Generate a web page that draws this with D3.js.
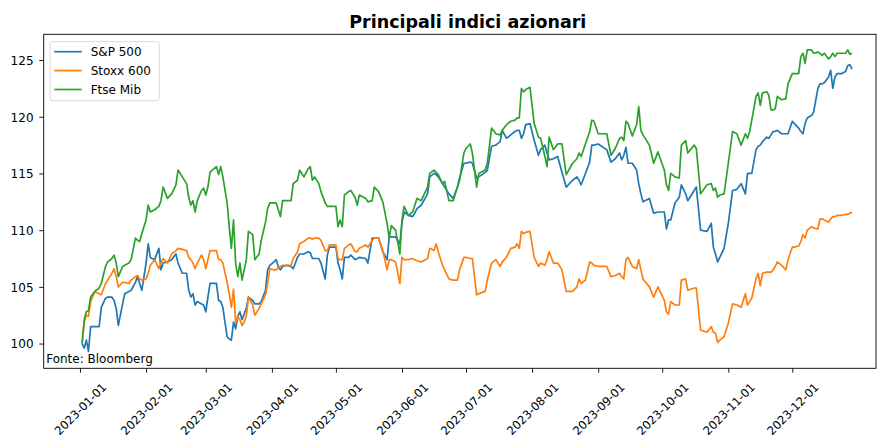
<!DOCTYPE html>
<html>
<head>
<meta charset="utf-8">
<script src="https://cdn.jsdelivr.net/npm/d3@7"></script>
<style>
  body { margin: 0; background: #fff; }
  text { font-family: "DejaVu Sans", sans-serif; }
</style>
</head>
<body>
<div id="chart"></div>
<script>
// Dati (indici normalizzati a 100 a inizio anno)
const dates = [
  '2023-01-02','2023-01-03','2023-01-04','2023-01-05','2023-01-06','2023-01-08','2023-01-10','2023-01-11','2023-01-13','2023-01-14',
  '2023-01-16','2023-01-17','2023-01-18','2023-01-19','2023-01-21','2023-01-22','2023-01-24','2023-01-25','2023-01-27','2023-01-28',
  '2023-01-29','2023-01-30','2023-02-01','2023-02-02','2023-02-03','2023-02-05','2023-02-07','2023-02-08','2023-02-09','2023-02-11',
  '2023-02-13','2023-02-15','2023-02-16','2023-02-18','2023-02-20','2023-02-21','2023-02-22','2023-02-23','2023-02-24','2023-02-25',
  '2023-02-27','2023-02-28','2023-03-01','2023-03-02','2023-03-03','2023-03-04','2023-03-06','2023-03-07','2023-03-08','2023-03-09',
  '2023-03-11','2023-03-12','2023-03-13','2023-03-14','2023-03-15','2023-03-16','2023-03-17','2023-03-18','2023-03-19','2023-03-20',
  '2023-03-21','2023-03-23','2023-03-24','2023-03-26','2023-03-27','2023-03-29','2023-03-30','2023-03-31','2023-04-02','2023-04-03',
  '2023-04-04','2023-04-05','2023-04-06','2023-04-08','2023-04-10','2023-04-11','2023-04-13','2023-04-14','2023-04-16','2023-04-18',
  '2023-04-19','2023-04-20','2023-04-21','2023-04-23','2023-04-24','2023-04-26','2023-04-27','2023-04-28','2023-05-01','2023-05-02',
  '2023-05-03','2023-05-04','2023-05-05','2023-05-07','2023-05-08','2023-05-10','2023-05-11','2023-05-12','2023-05-15','2023-05-16',
  '2023-05-18','2023-05-19','2023-05-21','2023-05-23','2023-05-25','2023-05-26','2023-05-27','2023-05-29','2023-05-31','2023-06-01',
  '2023-06-02','2023-06-04','2023-06-06','2023-06-07','2023-06-08','2023-06-10','2023-06-13','2023-06-14','2023-06-16','2023-06-17',
  '2023-06-18','2023-06-20','2023-06-21','2023-06-23','2023-06-25','2023-06-27','2023-06-28','2023-06-30','2023-07-01','2023-07-03',
  '2023-07-04','2023-07-06','2023-07-07','2023-07-10','2023-07-11','2023-07-13','2023-07-15','2023-07-17','2023-07-18','2023-07-20',
  '2023-07-22','2023-07-24','2023-07-25','2023-07-26','2023-07-27','2023-07-28','2023-07-29','2023-07-31','2023-08-02','2023-08-04',
  '2023-08-05','2023-08-07','2023-08-08','2023-08-09','2023-08-11','2023-08-13','2023-08-15','2023-08-17','2023-08-20','2023-08-22',
  '2023-08-23','2023-08-24','2023-08-26','2023-08-28','2023-08-29','2023-08-30','2023-09-01','2023-09-05','2023-09-07','2023-09-09',
  '2023-09-11','2023-09-12','2023-09-13','2023-09-14','2023-09-15','2023-09-17','2023-09-19','2023-09-20','2023-09-21','2023-09-22',
  '2023-09-25','2023-09-27','2023-09-29','2023-10-02','2023-10-03','2023-10-04','2023-10-05','2023-10-07','2023-10-09','2023-10-10',
  '2023-10-12','2023-10-13','2023-10-16','2023-10-17','2023-10-19','2023-10-22','2023-10-24','2023-10-25','2023-10-26','2023-10-27',
  '2023-10-28','2023-10-30','2023-11-01','2023-11-03','2023-11-05','2023-11-07','2023-11-09','2023-11-10','2023-11-11','2023-11-12',
  '2023-11-14','2023-11-15','2023-11-16','2023-11-17','2023-11-19','2023-11-20','2023-11-21','2023-11-22','2023-11-23','2023-11-24',
  '2023-11-26','2023-11-28','2023-11-29','2023-12-01','2023-12-02','2023-12-04','2023-12-05','2023-12-06','2023-12-07','2023-12-08',
  '2023-12-10','2023-12-11','2023-12-13','2023-12-14','2023-12-15','2023-12-16','2023-12-18','2023-12-19','2023-12-20','2023-12-21',
  '2023-12-22','2023-12-24','2023-12-26','2023-12-27','2023-12-28','2023-12-29'
];

const sp500 = [
  100.0, 99.6, 100.3, 99.3, 101.5, 101.5, 101.5, 103.2, 104.0, 104.1,
  104.1, 103.8, 103.1, 101.6, 103.5, 104.4, 104.6, 104.7, 105.4, 105.9,
  105.3, 104.7, 107.1, 108.8, 107.6, 107.4, 108.4, 106.5, 107.1, 107.2,
  107.4, 107.9, 107.1, 106.2, 106.2, 104.7, 104.1, 104.4, 103.4, 103.7,
  103.5, 103.4, 102.8, 104.1, 105.3, 105.3, 105.3, 103.8, 103.7, 103.2,
  100.6, 100.4, 100.3, 101.9, 101.3, 102.4, 102.8, 102.1, 102.6, 103.1,
  104.1, 103.8, 103.5, 103.5, 103.7, 104.7, 106.5, 106.9, 107.2, 107.4,
  106.8, 106.5, 106.8, 106.9, 106.8, 106.6, 107.6, 107.9, 107.9, 108.1,
  108.0, 107.5, 107.5, 107.5, 107.1, 105.7, 107.8, 108.5, 108.5, 107.1,
  106.5, 105.7, 107.6, 107.6, 107.8, 107.4, 107.5, 107.6, 107.5, 107.1,
  109.3, 109.3, 109.3, 108.1, 107.4, 109.4, 109.4, 109.4, 108.8, 110.7,
  111.6, 111.3, 111.2, 111.5, 111.9, 112.2, 113.2, 114.7, 115.0, 114.9,
  114.7, 114.1, 113.8, 113.2, 112.8, 113.8, 114.6, 115.9, 115.9, 116.0,
  115.9, 114.6, 114.7, 115.1, 115.3, 117.4, 117.5, 117.8, 118.8, 118.1,
  118.4, 118.7, 118.8, 118.8, 118.1, 118.5, 119.3, 119.4, 117.9, 116.6,
  117.1, 117.5, 116.8, 116.2, 116.3, 116.5, 115.1, 113.8, 114.4, 114.7,
  114.4, 114.0, 115.0, 116.0, 117.5, 117.5, 117.6, 117.1, 116.0, 116.3,
  116.8, 116.2, 116.6, 117.3, 115.9, 115.9, 115.3, 114.1, 113.2, 112.5,
  112.8, 111.5, 111.6, 111.6, 110.1, 110.9, 110.9, 112.4, 112.9, 114.0,
  113.2, 112.6, 113.5, 113.8, 110.0, 109.9, 110.6, 108.5, 107.9, 107.2,
  107.6, 108.4, 110.6, 113.5, 113.6, 114.1, 113.2, 115.0, 115.0, 115.0,
  117.1, 117.4, 117.5, 117.8, 118.2, 118.1, 118.4, 118.7, 118.7, 118.8,
  118.5, 118.5, 118.5, 119.6, 119.4, 119.0, 118.7, 118.5, 119.4, 119.9,
  120.1, 120.4, 122.5, 122.9, 122.9, 123.0, 123.5, 124.1, 122.5, 123.5,
  123.8, 123.8, 124.0, 124.5, 124.6, 124.2
];

const stoxx600 = [
  100.0, 101.9, 102.5, 102.4, 103.7, 104.6, 104.4, 104.3, 105.3, 105.6,
  106.2, 106.6, 105.9, 105.0, 105.4, 105.4, 105.3, 105.6, 105.9, 106.0,
  105.7, 105.6, 105.7, 106.2, 106.9, 107.4, 106.6, 107.1, 107.5, 107.1,
  107.9, 108.2, 108.4, 108.3, 108.2, 107.6, 107.4, 107.1, 106.6, 107.1,
  107.8, 107.4, 106.6, 107.4, 108.2, 108.2, 108.2, 107.4, 107.4, 107.1,
  105.4, 104.4, 103.2, 104.8, 101.8, 102.4, 102.1, 101.6, 101.9, 102.4,
  104.1, 103.4, 102.5, 103.1, 103.5, 104.3, 105.3, 106.6, 106.5, 106.5,
  106.7, 106.8, 106.9, 106.9, 106.9, 107.5, 108.1, 108.8, 109.0, 109.3,
  109.3, 109.2, 109.3, 109.3, 109.1, 108.2, 108.2, 108.7, 108.7, 107.5,
  107.4, 107.4, 108.4, 108.7, 108.8, 108.1, 108.1, 108.4, 108.7, 108.5,
  109.1, 109.3, 109.3, 108.2, 106.5, 107.4, 107.4, 107.2, 105.3, 107.6,
  107.4, 107.4, 107.5, 107.4, 107.3, 107.2, 107.5, 108.4, 108.2, 108.8,
  108.1, 106.9, 106.5, 105.7, 105.6, 105.6, 106.5, 107.6, 107.6, 107.5,
  107.5, 104.3, 104.4, 104.6, 105.6, 107.1, 107.4, 106.8, 107.2, 107.6,
  108.4, 108.5, 108.8, 108.4, 109.9, 109.7, 109.8, 109.9, 107.6, 106.8,
  107.1, 106.9, 107.4, 108.1, 107.1, 107.1, 106.5, 104.6, 104.6, 105.0,
  105.7, 105.3, 105.6, 107.2, 107.1, 106.9, 106.8, 106.8, 105.9, 106.0,
  106.2, 105.9, 105.7, 107.4, 107.6, 106.8, 106.6, 107.4, 106.5, 105.7,
  105.0, 104.1, 105.0, 103.8, 102.8, 102.6, 103.7, 103.4, 103.4, 105.6,
  105.7, 104.7, 104.9, 104.9, 101.2, 101.0, 101.5, 101.0, 100.9, 100.1,
  100.3, 100.6, 101.8, 103.5, 103.4, 103.2, 104.4, 103.4, 103.7, 104.0,
  105.7, 106.2, 105.1, 106.2, 106.3, 106.3, 106.3, 106.5, 106.8, 107.2,
  106.9, 106.5, 107.4, 108.5, 108.5, 108.6, 109.0, 109.6, 109.3, 110.0,
  110.3, 110.2, 110.1, 111.0, 111.0, 110.9, 110.7, 111.0, 111.2, 111.2,
  111.3, 111.3, 111.4, 111.4, 111.5, 111.6
];

const ftseMib = [
  100.0, 102.1, 102.8, 102.9, 104.1, 104.6, 104.9, 105.3, 106.8, 107.2,
  107.5, 107.8, 107.1, 105.9, 106.8, 106.9, 107.1, 107.4, 109.3, 109.1,
  109.0, 109.7, 110.9, 112.2, 111.6, 111.8, 112.1, 112.6, 113.8, 112.8,
  113.2, 114.0, 115.3, 114.7, 114.1, 112.9, 112.2, 112.6, 111.6, 112.6,
  113.5, 113.7, 113.1, 113.8, 115.1, 115.3, 115.6, 114.9, 115.6, 114.7,
  112.4, 110.3, 108.4, 110.9, 107.1, 105.9, 107.1, 105.6, 106.5, 107.4,
  109.9, 109.6, 107.4, 107.9, 109.1, 110.7, 111.9, 112.4, 112.4, 112.4,
  111.8, 111.2, 112.6, 112.6, 112.6, 114.1, 114.4, 115.3, 114.7, 115.4,
  115.6, 114.4, 114.7, 114.1, 113.4, 112.4, 112.1, 112.1, 112.1, 110.3,
  110.9, 110.3, 113.1, 113.4, 113.5, 112.9, 112.2, 113.1, 112.8, 112.5,
  112.6, 113.8, 113.4, 112.5, 110.6, 109.3, 110.4, 110.0, 107.9, 110.9,
  112.1, 111.3, 111.6, 112.2, 112.8, 112.6, 113.8, 115.0, 115.3, 115.1,
  114.9, 114.1, 114.3, 112.6, 112.6, 113.8, 114.4, 116.8, 117.2, 117.6,
  116.8, 113.8, 115.0, 115.3, 115.9, 119.0, 118.5, 118.4, 118.8, 119.3,
  119.6, 119.7, 119.9, 119.9, 122.5, 122.2, 122.4, 122.6, 119.4, 118.2,
  118.1, 116.5, 115.6, 118.2, 117.1, 117.6, 117.6, 114.9, 115.9, 116.3,
  116.8, 116.5, 117.6, 118.7, 119.7, 119.6, 118.5, 118.5, 116.6, 117.2,
  118.1, 118.2, 117.9, 119.6, 119.4, 118.3, 119.3, 120.9, 118.8, 118.4,
  117.5, 115.9, 116.9, 115.3, 114.0, 113.5, 115.0, 114.7, 114.6, 117.5,
  117.9, 116.8, 117.5, 117.2, 113.2, 114.0, 114.1, 113.5, 113.7, 112.9,
  113.1, 113.2, 115.9, 118.7, 118.5, 117.5, 118.5, 118.1, 118.7, 119.7,
  121.8, 122.1, 121.0, 122.1, 122.2, 121.9, 120.6, 120.6, 120.7, 121.8,
  121.5, 121.6, 122.9, 123.8, 123.8, 123.8, 125.3, 125.6, 124.7, 125.9,
  125.9, 125.6, 125.7, 125.6, 125.4, 125.6, 125.1, 125.3, 125.6, 125.3,
  125.6, 125.6, 125.6, 125.9, 125.5, 125.6
];

const seriesNames = ['S&P 500', 'Stoxx 600', 'Ftse Mib'];
const seriesColors = ['#1f77b4', '#ff7f0e', '#2ca02c'];
const xTickLabels = ['2023-01-01', '2023-02-01', '2023-03-01', '2023-04-01', '2023-05-01', '2023-06-01',
  '2023-07-01', '2023-08-01', '2023-09-01', '2023-10-01', '2023-11-01', '2023-12-01'];
const yTickValues = [100, 105, 110, 115, 120, 125];

const width = 878, height = 437;
const margin = {top: 34.3, right: 2, bottom: 68.7, left: 43.7};
const parseDate = d3.timeParse('%Y-%m-%d');

const svg = d3.select('#chart')
  .append('svg')
  .attr('width', width)
  .attr('height', height);

// Scale
const x = d3.scaleTime()
  .domain([new Date(2022, 11, 15), new Date(2024, 0, 9, 6)])
  .range([margin.left, width - margin.right]);

const y = d3.scaleLinear()
  .domain([97.82, 127.27])
  .range([height - margin.bottom, margin.top]);

const allSeries = [sp500, stoxx600, ftseMib].map((vals, i) => ({
  name: seriesNames[i],
  color: seriesColors[i],
  values: vals.map((v, j) => ({date: parseDate(dates[j]), value: v}))
}));

// Linee
const line = d3.line()
  .x(d => x(d.date))
  .y(d => y(d.value));

svg.append('g')
  .selectAll('path')
  .data(allSeries)
  .enter()
  .append('path')
  .attr('d', d => line(d.values))
  .attr('fill', 'none')
  .attr('stroke', d => d.color)
  .attr('stroke-width', 1.7)
  .attr('stroke-linejoin', 'round');

// Assi
const yAxis = svg.append('g')
  .attr('transform', `translate(${margin.left},0)`)
  .call(d3.axisLeft(y).tickValues(yTickValues).tickSize(4.4).tickPadding(5.8));
yAxis.select('.domain').remove();
yAxis.selectAll('text').attr('font-size', '12px').attr('fill', '#000').attr('dy', '0.36em');
yAxis.selectAll('line').attr('stroke', '#000').attr('stroke-width', 0.9);

const xAxis = svg.append('g')
  .attr('transform', `translate(0,${height - margin.bottom})`)
  .call(d3.axisBottom(x).tickValues(xTickLabels.map(parseDate)).tickSize(4.4)
    .tickFormat(d3.timeFormat('%Y-%m-%d')));
xAxis.select('.domain').remove();
xAxis.selectAll('line').attr('stroke', '#000').attr('stroke-width', 0.9);
// etichette ruotate di 45°, centrate sul tick
xAxis.selectAll('text')
  .attr('font-size', '11.6px')
  .attr('fill', '#000')
  .attr('text-anchor', 'middle')
  .attr('dy', null)
  .attr('y', 4.2)
  .attr('transform', 'translate(0,40.6) rotate(-45)');

// Cornice
svg.append('rect')
  .attr('x', margin.left)
  .attr('y', margin.top)
  .attr('width', width - margin.right - margin.left)
  .attr('height', height - margin.bottom - margin.top)
  .attr('fill', 'none')
  .attr('stroke', '#000')
  .attr('stroke-width', 0.9);

// Titolo
svg.append('text')
  .attr('x', 467.8)
  .attr('y', 27.7)
  .attr('text-anchor', 'middle')
  .attr('font-size', '17.5px')
  .attr('font-weight', 'bold')
  .text('Principali indici azionari');

// Fonte
svg.append('text')
  .attr('x', margin.left + 2.5)
  .attr('y', height - margin.bottom - 5)
  .attr('font-size', '12px')
  .text('Fonte: Bloomberg');

// Legenda
const legend = svg.append('g').attr('transform', 'translate(50,41.7)');
legend.append('rect')
  .attr('width', 109.3)
  .attr('height', 59)
  .attr('rx', 3)
  .attr('fill', '#fff')
  .attr('fill-opacity', 0.8)
  .attr('stroke', '#d6d6d6')
  .attr('stroke-width', 0.9);

const items = legend.selectAll('.item')
  .data(allSeries)
  .enter()
  .append('g')
  .attr('class', 'item')
  .attr('transform', (d, i) => `translate(0,${10 + i * 18.9})`);

items.append('line')
  .attr('x1', 4.3)
  .attr('x2', 31.7)
  .attr('stroke', d => d.color)
  .attr('stroke-width', 1.7);

items.append('text')
  .attr('x', 40.7)
  .attr('y', 4.4)
  .attr('font-size', '12px')
  .text(d => d.name);
</script>
</body>
</html>
